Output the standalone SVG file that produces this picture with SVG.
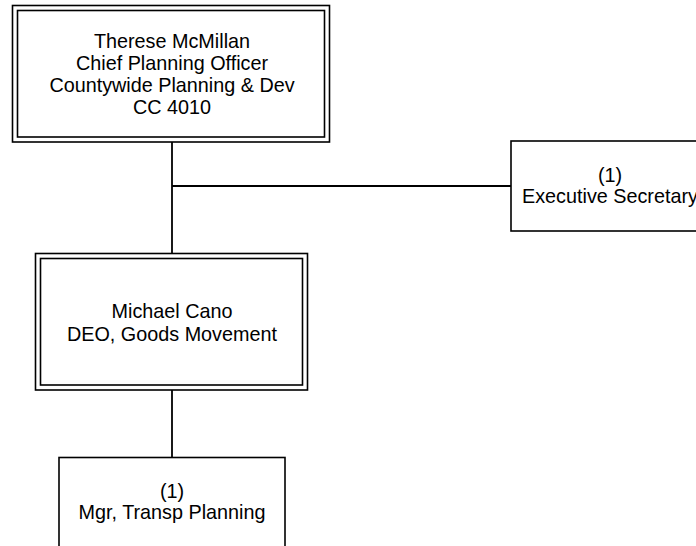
<svg xmlns="http://www.w3.org/2000/svg" width="696" height="546" viewBox="0 0 696 546">
<style>
.b{fill:none;stroke:#000;stroke-width:1.6}
.c{fill:none;stroke:#000;stroke-width:1.8}
text{font-family:"Liberation Sans",Arial,sans-serif;font-size:19.8px;fill:#000;text-anchor:middle}
</style>
<rect width="696" height="546" fill="#fff"/>
<g id="connectors">
<line class="c" x1="172" y1="142" x2="172" y2="253.5"/>
<line class="c" x1="172" y1="186" x2="511" y2="186"/>
<line class="c" x1="172" y1="390" x2="172" y2="457.5"/>
</g>
<g id="mcmillan">
<rect class="b" x="12.5" y="5.5" width="317" height="136.5"/>
<rect class="b" x="17.5" y="10.5" width="307" height="126.5"/>
<text x="172" y="47.5">Therese McMillan</text>
<text x="172" y="69.5">Chief Planning Officer</text>
<text x="172" y="91.5">Countywide Planning &amp; Dev</text>
<text x="172" y="113.5">CC 4010</text>
</g>
<g id="exec-secretary">
<rect class="b" x="511" y="141" width="210" height="90"/>
<text x="610" y="181.5">(1)</text>
<text x="610" y="202.5">Executive Secretary</text>
</g>
<g id="cano">
<rect class="b" x="35.5" y="253.5" width="272" height="136.5"/>
<rect class="b" x="40.5" y="258.5" width="262" height="126.5"/>
<text x="172" y="317.5">Michael Cano</text>
<text x="172" y="340.5">DEO, Goods Movement</text>
</g>
<g id="mgr-transp">
<rect class="b" x="59" y="457.5" width="226" height="100"/>
<text x="172" y="497.5">(1)</text>
<text x="172" y="519">Mgr, Transp Planning</text>
</g>
</svg>
